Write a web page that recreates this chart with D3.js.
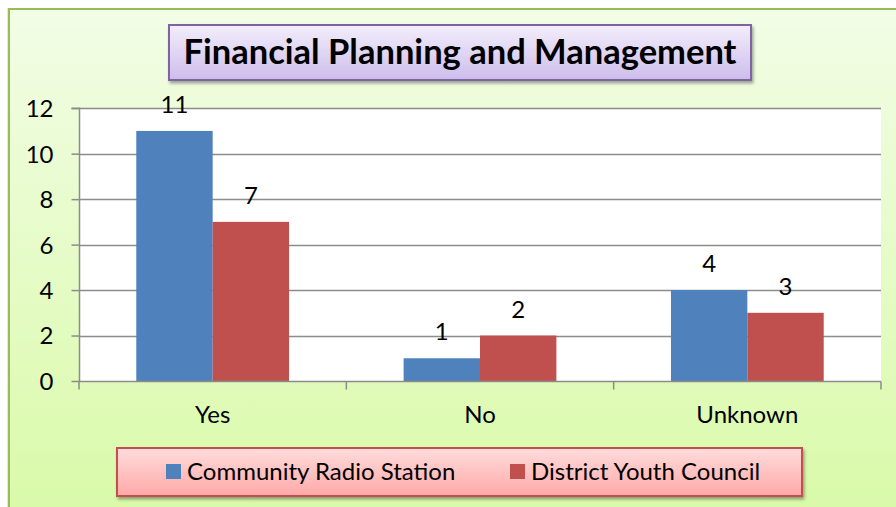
<!DOCTYPE html>
<html>
<head>
<meta charset="utf-8">
<script src="https://cdn.jsdelivr.net/npm/d3@7"></script>
<style>
html,body{margin:0;padding:0;background:#fff;}
svg{display:block;}
</style>
</head>
<body>
<svg id="chart" width="896" height="507"></svg>
<script>
const title = "Financial Planning and Management";
const categories = ["Yes", "No", "Unknown"];
const seriesNames = ["Community Radio Station", "District Youth Council"];
const communityRadio = [11, 1, 4];
const districtYouth = [7, 2, 3];
const yTicks = [0, 2, 4, 6, 8, 10, 12];
const colors = ["#4f81bd", "#c0504d"];

(function(){
const svg = d3.select("#chart");
const font = "Lato, 'Open Sans', sans-serif";
const fs = 24;
const defs = svg.append("defs");

const bg = defs.append("linearGradient").attr("id","bg").attr("x1",0).attr("y1",0).attr("x2",0).attr("y2",1);
bg.append("stop").attr("offset","0%").attr("stop-color","#f2fde6");
bg.append("stop").attr("offset","100%").attr("stop-color","#d9faa8");

const tg = defs.append("linearGradient").attr("id","tg").attr("x1",0).attr("y1",0).attr("x2",0).attr("y2",1);
tg.append("stop").attr("offset","0%").attr("stop-color","#f3eefb");
tg.append("stop").attr("offset","100%").attr("stop-color","#cdbdec");

const lg = defs.append("linearGradient").attr("id","lg").attr("x1",0).attr("y1",0).attr("x2",0).attr("y2",1);
lg.append("stop").attr("offset","0%").attr("stop-color","#ffdcdc");
lg.append("stop").attr("offset","100%").attr("stop-color","#ffa9a8");

const sh = defs.append("filter").attr("id","sh").attr("x","-10%").attr("y","-30%").attr("width","120%").attr("height","170%");
sh.append("feDropShadow").attr("dx",1.5).attr("dy",2.5).attr("stdDeviation",1.5).attr("flood-color","#000").attr("flood-opacity",0.35);

// chart background
svg.append("rect").attr("x",7).attr("y",8).attr("width",900).attr("height",510)
  .attr("fill","#ccc").attr("opacity",0.5);
svg.append("rect").attr("x",9).attr("y",9).attr("width",900).attr("height",510)
  .attr("fill","url(#bg)").attr("stroke","#9bbb59").attr("stroke-width",2);

// plot
const pL = 79, pR = 881, pT = 108.2, pB = 381;
const x0 = d3.scaleBand().domain(categories).range([pL, pR]).paddingInner(0).paddingOuter(0);
const groupW = x0.bandwidth() * 2 / 3.5;
const x1 = d3.scaleBand().domain([0,1]).range([0, groupW]).padding(0);
const y = d3.scaleLinear().domain([0, 12]).range([pB, pT]);

svg.append("rect").attr("x",pL).attr("y",pT).attr("width",pR-pL).attr("height",pB-pT).attr("fill","#fff");

// gridlines
svg.append("g").selectAll("line").data(yTicks.filter(d=>d>0)).join("line")
  .attr("x1",pL).attr("x2",pR).attr("y1",d=>Math.round(y(d))+0.5).attr("y2",d=>Math.round(y(d))+0.5)
  .attr("stroke","#8c8c8c").attr("stroke-width",1.3);

// bars
const data = categories.map((c,i)=>({cat:c, vals:[communityRadio[i], districtYouth[i]]}));
const groups = svg.append("g").selectAll("g").data(data).join("g")
  .attr("transform", d=>`translate(${x0(d.cat) + (x0.bandwidth()-groupW)/2},0)`);
groups.selectAll("rect").data(d=>d.vals.map((v,j)=>({v,j}))).join("rect")
  .attr("x", d=>x1(d.j)).attr("width", x1.bandwidth())
  .attr("y", d=>y(d.v)).attr("height", d=>y(0)-y(d.v))
  .attr("fill", d=>colors[d.j]);
groups.selectAll("text").data(d=>d.vals.map((v,j)=>({v,j}))).join("text")
  .attr("x", d=>x1(d.j)+x1.bandwidth()/2).attr("y", d=>y(d.v)-18)
  .attr("text-anchor","middle").attr("font-family",font).attr("font-size",fs).attr("fill","#000")
  .text(d=>d.v);

// y axis
const yAxis = d3.axisLeft(y).tickValues(yTicks).tickSize(8).tickPadding(18).tickFormat(d3.format("d"));
const ya = svg.append("g").attr("transform",`translate(${pL+0.5},0)`).call(yAxis);
ya.select(".domain").attr("stroke","#8c8c8c").attr("stroke-width",1.5).attr("d",`M-8,${pT}H0V${pB}`);
ya.selectAll(".tick line").attr("stroke","#8c8c8c").attr("stroke-width",1.5);
ya.selectAll(".tick text").attr("font-family",font).attr("font-size",fs).attr("fill","#000").attr("dy","0.35em");

// x axis
const xa = svg.append("g").attr("transform",`translate(0,${pB+0.5})`);
xa.append("line").attr("x1",pL).attr("x2",pR).attr("stroke","#8c8c8c").attr("stroke-width",1.5);
const bounds = categories.map(c=>x0(c)).concat([pR]);
xa.selectAll("line.tk").data(bounds).join("line").attr("class","tk")
  .attr("x1",d=>d).attr("x2",d=>d).attr("y1",0).attr("y2",8)
  .attr("stroke","#8c8c8c").attr("stroke-width",1.5);
xa.selectAll("text").data(categories).join("text")
  .attr("x",d=>x0(d)+x0.bandwidth()/2).attr("y",41)
  .attr("text-anchor","middle").attr("font-family",font).attr("font-size",fs).attr("fill","#000")
  .text(d=>d);

// title box
svg.append("rect").attr("x",169).attr("y",25).attr("width",582).attr("height",55)
  .attr("fill","url(#tg)").attr("stroke","#8064a2").attr("stroke-width",2).attr("filter","url(#sh)");
svg.append("text").attr("x",460).attr("y",64).attr("text-anchor","middle")
  .attr("font-family",font).attr("font-weight","bold").attr("font-size",34.5).attr("fill","#000")
  .text(title);

// legend
svg.append("rect").attr("x",117).attr("y",448).attr("width",685).attr("height",48)
  .attr("fill","url(#lg)").attr("stroke","#c0504d").attr("stroke-width",2).attr("filter","url(#sh)");
const legX = [166, 510];
const leg = svg.append("g").selectAll("g").data(seriesNames).join("g")
  .attr("transform",(d,i)=>`translate(${legX[i]},464)`);
leg.append("rect").attr("width",15).attr("height",15).attr("fill",(d,i)=>colors[i]);
leg.append("text").attr("x",21).attr("y",16).attr("font-family",font).attr("font-size",fs).attr("fill","#000").text(d=>d);
})();
</script>
</body>
</html>
